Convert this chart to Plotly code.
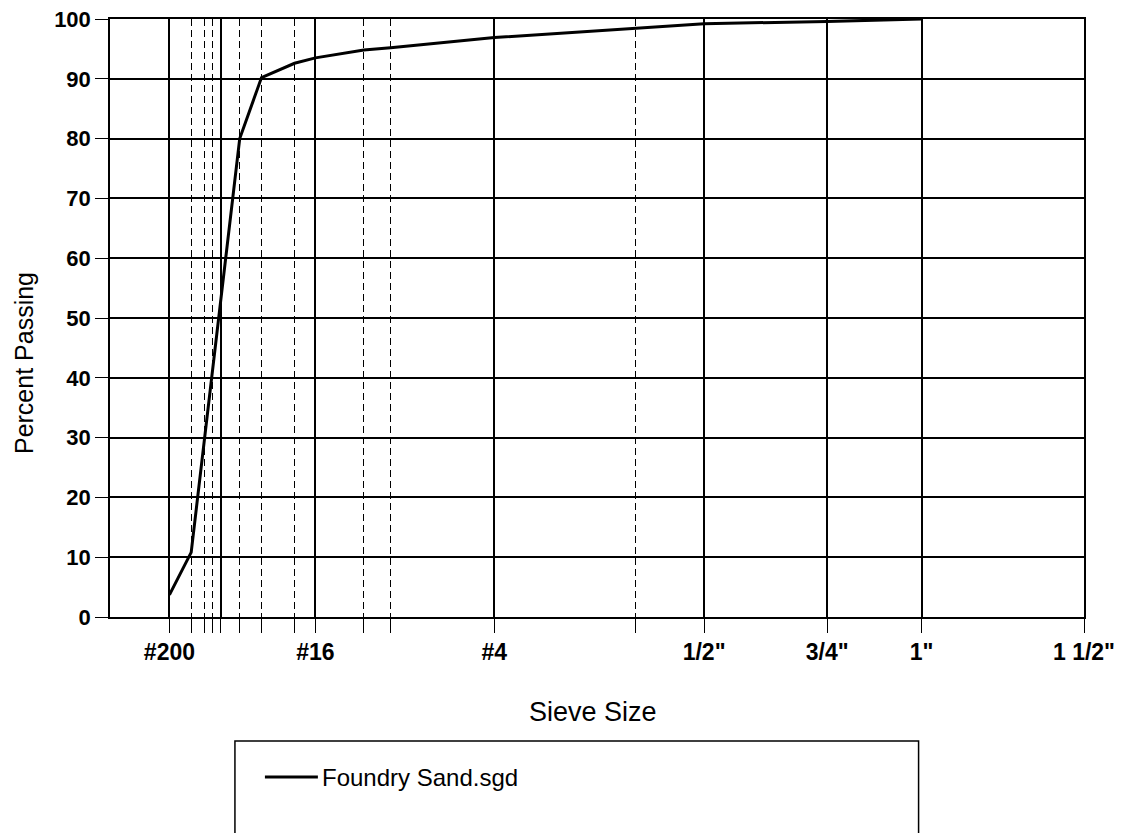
import plotly.graph_objects as go

# ---- data (sieve opening in mm, percent passing) ----
sieve_mm = [0.075, 0.15, 0.425, 0.6, 0.93, 1.18, 1.89, 2.36, 4.75, 9.5, 12.5, 19.0, 25.0]
passing = [3.7, 10.8, 80.0, 90.2, 92.6, 93.5, 94.8, 95.2, 96.9, 98.4, 99.2, 99.6, 100.0]

# labelled (solid) sieves
major_mm = [0.075, 0.3, 1.18, 4.75, 12.5, 19.0, 25.0, 37.5]
major_lbl = ["#200", "", "#16", "#4", '1/2"', '3/4"', '1"', '1 1/2"']
# unlabelled (dashed) sieves
minor_mm = [0.15, 0.212, 0.25, 0.425, 0.6, 0.93, 1.89, 2.36, 9.5]

y_ticks = [0, 10, 20, 30, 40, 50, 60, 70, 80, 90, 100]
series_name = "Foundry Sand.sgd"

POW = 0.45  # 0.45-power gradation scale


def sc(v):
    return v ** POW


FONT = "Liberation Sans, Arial, sans-serif"

# page layout (the page body adds an 8px offset)
OFF = 8
PL, PR, PT, PB = 110, 1084.5, 19, 617  # plot area in page pixels
W, H = 1122, 833


def px(x):
    return (x - PL) / (PR - PL)


def py(y):
    return (PB - y) / (PB - PT)


fig = go.Figure()
fig.add_trace(go.Scatter(
    x=[sc(v) for v in sieve_mm], y=passing, mode="lines",
    name=series_name, showlegend=False,
    line=dict(color="black", width=3),
))

fig.update_layout(
    width=W, height=H,
    margin=dict(l=PL - OFF, r=W - (PR - OFF), t=PT - OFF, b=H - (PB - OFF), autoexpand=False),
    paper_bgcolor="white", plot_bgcolor="white",
    font=dict(family=FONT, color="black"),
    xaxis=dict(
        range=[0, sc(37.5)],
        tickmode="array", tickvals=[sc(v) for v in major_mm], ticktext=major_lbl,
        showgrid=True, gridcolor="black", gridwidth=1.5,
        ticks="outside", ticklen=14, tickwidth=1.2, tickcolor="black",
        tickfont=dict(size=23, family=FONT, weight="bold"),
        ticklabeloverflow="allow",
        showline=True, linecolor="black", linewidth=1.5, mirror=True,
        zeroline=False,
        minor=dict(tickmode="array", tickvals=[sc(v) for v in minor_mm],
                   ticks="outside", ticklen=14, tickwidth=1.2, tickcolor="black",
                   showgrid=True, gridcolor="black", gridwidth=1.2, griddash="7px,4px"),
    ),
    yaxis=dict(
        range=[0, 100],
        tickmode="array", tickvals=y_ticks,
        showgrid=True, gridcolor="black", gridwidth=1.5,
        ticks="outside", ticklen=13, tickwidth=1.2, tickcolor="black",
        tickfont=dict(size=22, family=FONT, weight="bold"),
        ticklabeloverflow="allow",
        showline=True, linecolor="black", linewidth=1.5, mirror=True,
        zeroline=False,
    ),
    annotations=[
        dict(text="Percent Passing", x=px(24), y=py(363), xanchor="center", yanchor="middle",
             xref="paper", yref="paper", showarrow=False, textangle=-90,
             font=dict(size=25, family=FONT, color="black")),
        dict(text="Sieve Size", x=px(593), y=py(712), xanchor="center", yanchor="middle",
             xref="paper", yref="paper", showarrow=False,
             font=dict(size=27, family=FONT, color="black")),
        dict(text=series_name, x=px(320), y=py(777), xanchor="left", yanchor="middle",
             xref="paper", yref="paper", showarrow=False,
             font=dict(size=24, family=FONT, color="black")),
    ],
    shapes=[
        dict(type="rect", xref="paper", yref="paper",
             x0=px(235), x1=px(919), y0=py(741), y1=py(850),
             line=dict(color="black", width=1.5), fillcolor="rgba(0,0,0,0)"),
        dict(type="line", xref="paper", yref="paper",
             x0=px(265), x1=px(318), y0=py(777), y1=py(777),
             line=dict(color="black", width=3)),
    ],
)

fig.write_html("out.html")
